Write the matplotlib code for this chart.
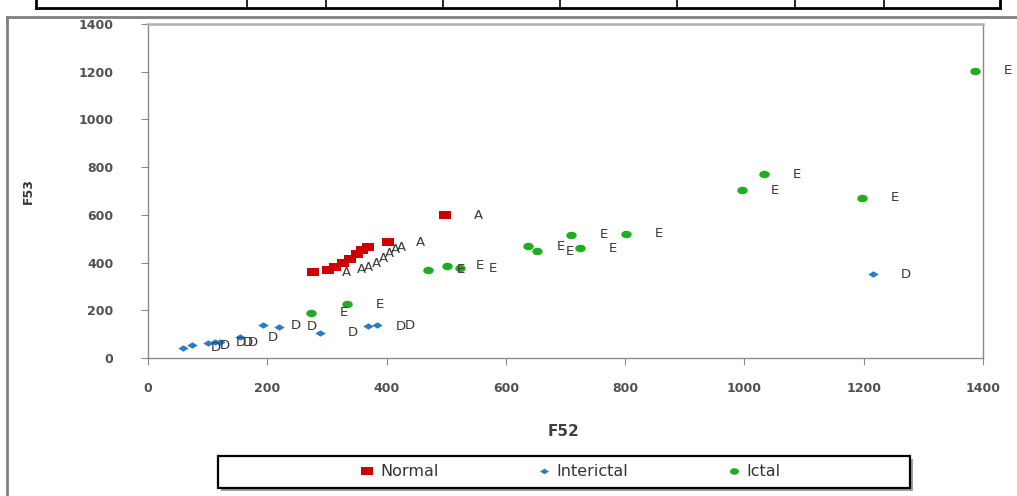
import numpy as np
import matplotlib
matplotlib.use('Agg')
import matplotlib.pyplot as plt
from matplotlib.lines import Line2D
from matplotlib.patches import Rectangle

# 数据
normal_x = [277, 302, 314, 327, 339, 350, 359, 369, 402, 498]
normal_y = [360, 369, 381, 398, 415, 436, 453, 465, 486, 599]

inter_x = [59, 74, 101, 112, 121, 154, 193, 220, 288, 369, 384, 1216]
inter_y = [42, 54, 63, 67, 67, 88, 138, 130, 105, 134, 138, 352]

ictal_x = [273, 334, 469, 501, 523, 637, 652, 709, 724, 801, 996, 1033, 1197, 1387]
ictal_y = [189, 226, 369, 386, 377, 469, 448, 516, 461, 520, 704, 771, 671, 1203]

series_names = ['Normal', 'Interictal', 'Ictal']
point_labels = ['A', 'D', 'E']
x_ticks = [0, 200, 400, 600, 800, 1000, 1200, 1400]
y_ticks = [0, 200, 400, 600, 800, 1000, 1200, 1400]

# 标记形状
t = np.linspace(0, 2 * np.pi, 40)
rect_m = [(-1, -0.7), (1, -0.7), (1, 0.7), (-1, 0.7), (-1, -0.7)]
ell_m = list(zip(np.cos(t), 0.72 * np.sin(t)))
dia_m = [(-1, 0), (0, 0.62), (1, 0), (0, -0.62), (-1, 0)]

colors = ['#cc0000', '#2a7cc6', '#22ac22']
markers = [rect_m, dia_m, ell_m]
msizes = [9, 7.5, 7.5]

fig = plt.figure(figsize=(10.17, 4.96), dpi=100)
ax = fig.add_axes([148 / 1017, 138 / 496, 835 / 1017, 334 / 496])

data = [(normal_x, normal_y), (inter_x, inter_y), (ictal_x, ictal_y)]
for (xs, ys), c, m, ms, lab in zip(data, colors, markers, msizes, point_labels):
    ax.plot(xs, ys, linestyle='none', marker=m, markersize=ms, color=c, markeredgewidth=0)
    for xv, yv in zip(xs, ys):
        ax.annotate(lab, (xv, yv), xytext=(33, 0), textcoords='offset pixels',
                    ha='center', va='center', fontsize=9.5, color='#383838')

ax.set_xlim(0, 1400)
ax.set_ylim(0, 1400)
ax.set_xticks(x_ticks)
ax.set_yticks(y_ticks)
for s in ax.spines.values():
    s.set_color('#8a8a8a')
    s.set_linewidth(1.0)
ax.spines['top'].set_linewidth(1.8)
ax.spines['top'].set_color('#b0b0b0')
ax.tick_params(axis='both', direction='out', length=5, color='#8a8a8a',
               labelsize=9, labelcolor='#505050')
ax.tick_params(axis='y', pad=20)
ax.tick_params(axis='x', pad=12)
for lbl in ax.get_xticklabels() + ax.get_yticklabels():
    lbl.set_fontweight('bold')

ax.set_xlabel('F52', fontsize=11, fontweight='bold', color='#404040')
ax.set_ylabel('F53', fontsize=9, fontweight='bold', color='#333333')
ax.xaxis.set_label_coords(0.498, -0.198)
ax.yaxis.set_label_coords(-0.135, 0.5)

# 图例（无边框）+ 手工边框
handles = [Line2D([], [], linestyle='none', marker=m, markersize=ms, color=c, markeredgewidth=0)
           for c, m, ms in zip(colors, markers, [8, 6.5, 6.5])]
fig.legend(handles, series_names, loc='center', bbox_to_anchor=(570 / 1017, 1 - 472 / 496),
           ncol=3, frameon=False, fontsize=11.5, columnspacing=6.1, handletextpad=0.3,
           handlelength=1.0, labelcolor='#333333')
fig.patches.append(Rectangle((221 / 1017, 1 - 491 / 496), 692 / 1017, 32 / 496,
                             transform=fig.transFigure, facecolor='#a0a0a0', edgecolor='none'))
fig.patches.append(Rectangle((218 / 1017, 1 - 488 / 496), 692 / 1017, 32 / 496,
                             transform=fig.transFigure, facecolor='white', edgecolor='black', linewidth=1.6))

# 外框和顶部表格线
def fline(xs, ys, **kw):
    fig.add_artist(Line2D([x / 1017 for x in xs], [1 - y / 496 for y in ys], transform=fig.transFigure, **kw))

fline([7, 7], [17, 496], color='#808080', linewidth=2)
fline([7, 1017], [17, 17], color='#808080', linewidth=2)
fline([36, 1000], [8, 8], color='black', linewidth=2)
fline([36, 36], [0, 8], color='black', linewidth=2)
fline([1000, 1000], [0, 8], color='black', linewidth=2)
for xd in [247, 326, 443, 560, 677, 795, 884]:
    fline([xd, xd], [0, 8], color='black', linewidth=1.2)

fig.savefig('out.png', dpi=100)
